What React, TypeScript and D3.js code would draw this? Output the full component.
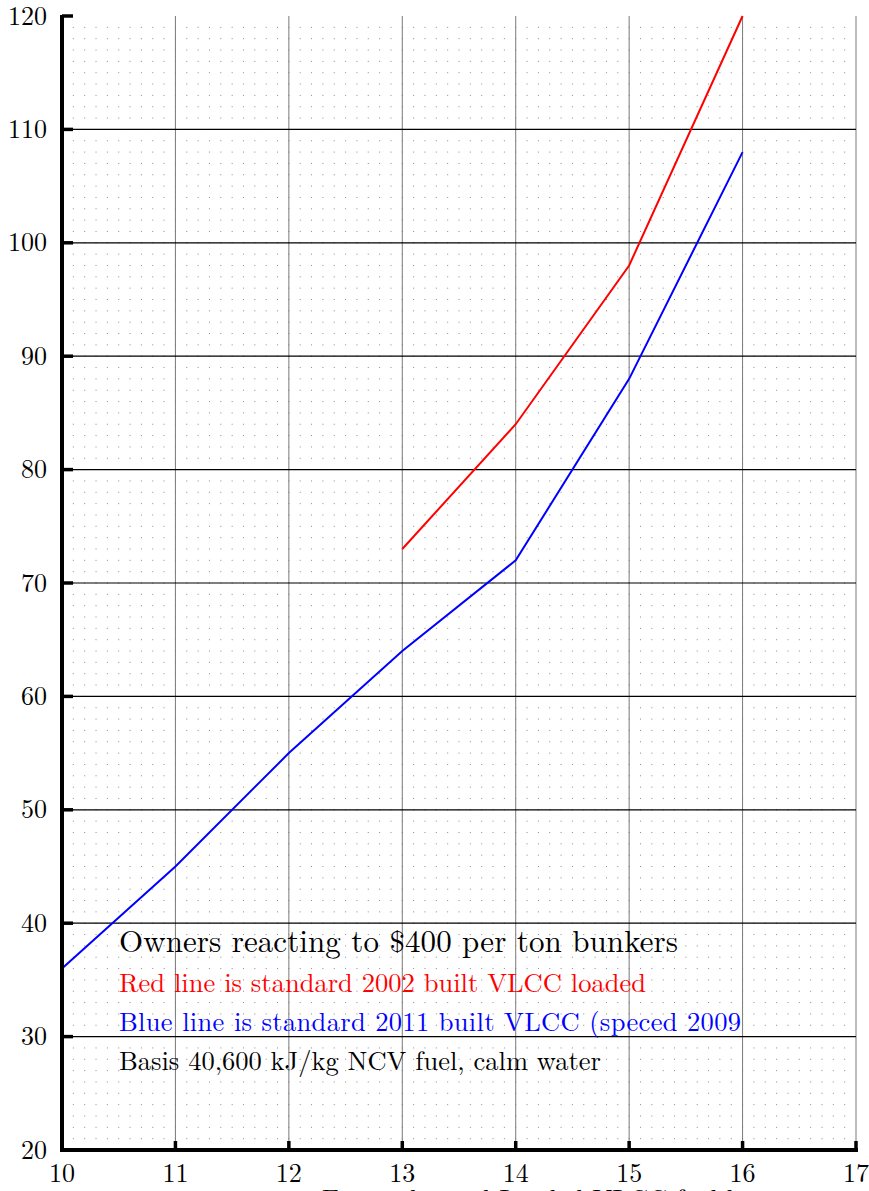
import React, { useEffect, useRef } from 'react';
import * as d3 from 'd3';

const speeds = [10, 11, 12, 13, 14, 15, 16];
const blueFuel = [36, 45, 55, 64, 72, 88, 108];
const redSpeeds = [13, 14, 15, 16];
const redFuel = [73, 84, 98, 120];
const xTicks = [10, 11, 12, 13, 14, 15, 16, 17];
const yTicks = [20, 30, 40, 50, 60, 70, 80, 90, 100, 110, 120];

const notes = [
  { text: 'Owners reacting to $400 per ton bunkers', color: '#000', size: 31, y: 952, len: 559 },
  { text: 'Red line is standard 2002 built VLCC loaded', color: '#ff0000', size: 26.5, y: 992, len: 527 },
  { text: 'Blue line is standard 2011 built VLCC (speced 2009', color: '#0000ff', size: 26.5, y: 1031, len: 622 },
  { text: 'Basis 40,600 kJ/kg NCV fuel, calm water', color: '#000', size: 26.5, y: 1070, len: 482 },
];

const W = 869;
const H = 1191;
const FONT = '"Latin Modern Roman", "Liberation Serif", serif';

const App: React.FC = () => {
  const svgRef = useRef<SVGSVGElement>(null);

  useEffect(() => {
    if (!svgRef.current) return;
    const svg = d3.select(svgRef.current);
    svg.selectAll('*').remove();

    const x = d3.scaleLinear().domain([10, 17]).range([62, 856]);
    const y = d3.scaleLinear().domain([20, 120]).range([1150, 16]);

    // dotted minor grid
    const dotX = d3.range(1, 70).map(i => 10 + i / 10);
    const dotY = d3.range(21, 120);
    const dots = svg.append('g');
    dotY.forEach(v => {
      dots.selectAll(null)
        .data(dotX)
        .enter()
        .append('rect')
        .attr('x', d => x(d) - 0.5)
        .attr('y', y(v) - 0.5)
        .attr('width', 1)
        .attr('height', 1)
        .attr('fill', '#8a8a8a');
    });

    // vertical grid (gray)
    svg.append('g').selectAll('line')
      .data(xTicks.slice(1))
      .enter()
      .append('line')
      .attr('x1', d => x(d)).attr('x2', d => x(d))
      .attr('y1', y(120)).attr('y2', y(20))
      .attr('stroke', '#7a7a7a')
      .attr('stroke-width', 1);

    // horizontal grid (black)
    svg.append('g').selectAll('line')
      .data(yTicks.slice(1, -1))
      .enter()
      .append('line')
      .attr('x1', x(10)).attr('x2', x(17))
      .attr('y1', d => y(d)).attr('y2', d => y(d))
      .attr('stroke', '#000')
      .attr('stroke-width', 1.2);

    // notes
    notes.forEach(n => {
      svg.append('text')
        .attr('x', 119)
        .attr('y', n.y)
        .attr('fill', n.color)
        .style('font-family', FONT)
        .attr('font-size', n.size)
        .attr('textLength', n.len)
        .text(n.text);
    });

    // series
    const line = d3.line<[number, number]>().x(d => x(d[0])).y(d => y(d[1]));
    svg.append('path')
      .datum(speeds.map((s, i) => [s, blueFuel[i]] as [number, number]))
      .attr('d', line)
      .attr('fill', 'none')
      .attr('stroke', '#0000ff')
      .attr('stroke-width', 2);
    svg.append('path')
      .datum(redSpeeds.map((s, i) => [s, redFuel[i]] as [number, number]))
      .attr('d', line)
      .attr('fill', 'none')
      .attr('stroke', '#ff0000')
      .attr('stroke-width', 2);

    // axes
    svg.append('line')
      .attr('x1', x(10)).attr('x2', x(10))
      .attr('y1', y(120) - 1).attr('y2', y(20) + 2)
      .attr('stroke', '#000').attr('stroke-width', 4);
    svg.append('line')
      .attr('x1', x(10) - 2).attr('x2', x(17) + 2)
      .attr('y1', y(20)).attr('y2', y(20))
      .attr('stroke', '#000').attr('stroke-width', 4);

    // y tick stubs and labels
    svg.append('g').selectAll('line')
      .data(yTicks.slice(1))
      .enter()
      .append('line')
      .attr('x1', x(10)).attr('x2', x(10) + 11)
      .attr('y1', d => y(d)).attr('y2', d => y(d))
      .attr('stroke', '#000').attr('stroke-width', 3.5);
    svg.append('g').selectAll('text')
      .data(yTicks)
      .enter()
      .append('text')
      .attr('x', 47)
      .attr('y', d => y(d) + 8.5)
      .attr('text-anchor', 'end')
      .style('font-family', FONT)
      .attr('font-size', 26)
      .attr('fill', '#000')
      .text(d => d);

    // x tick stubs and labels
    svg.append('g').selectAll('line')
      .data(xTicks.slice(1))
      .enter()
      .append('line')
      .attr('x1', d => x(d)).attr('x2', d => x(d))
      .attr('y1', y(20)).attr('y2', y(20) - 9)
      .attr('stroke', '#000').attr('stroke-width', 3.5);
    svg.append('g').selectAll('text')
      .data(xTicks)
      .enter()
      .append('text')
      .attr('x', d => x(d))
      .attr('y', 1182)
      .attr('text-anchor', 'middle')
      .style('font-family', FONT)
      .attr('font-size', 26)
      .attr('fill', '#000')
      .text(d => d);

    // x axis title, mostly below the visible frame
    svg.append('text')
      .attr('x', 322)
      .attr('y', 1208)
      .style('font-family', FONT)
      .attr('font-size', 26.5)
      .attr('fill', '#000')
      .text('Forward speed        Loaded VLCC fuel burn');
  }, []);

  return (
    <svg
      ref={svgRef}
      width={W}
      height={H}
      style={{ position: 'absolute', left: 0, top: 0, background: '#fff', overflow: 'hidden' }}
    />
  );
};

export default App;
